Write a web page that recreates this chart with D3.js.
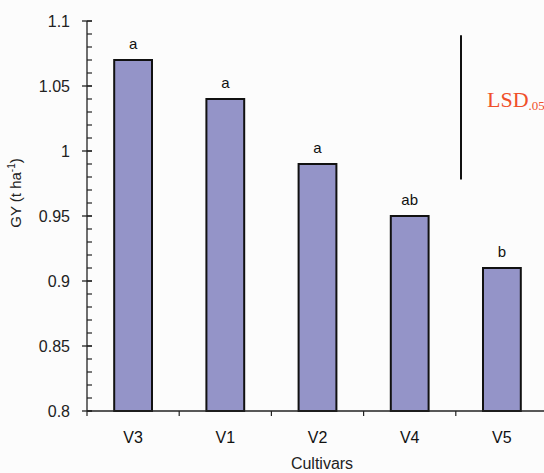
<!DOCTYPE html>
<html><head><meta charset="utf-8">
<script src="https://cdn.jsdelivr.net/npm/d3@7"></script>
<style>
html,body{margin:0;padding:0;background:#fcfcfc;}
svg{display:block;font-family:Arial,"Liberation Sans",sans-serif;}
</style></head>
<body><svg id="c" width="544" height="473"></svg>
<script>
const categories = ["V3","V1","V2","V4","V5"];
const values = [1.07, 1.04, 0.99, 0.95, 0.91];
const letters = ["a","a","a","ab","b"];
const yTicks = [0.8, 0.85, 0.9, 0.95, 1, 1.05, 1.1];
const lsdRange = [0.978, 1.089];

const svg = d3.select("#c");
const mLeft = 87, mRight = 548, mTop = 21, mBottom = 411;
const x = d3.scaleBand().domain(categories).range([mLeft, mRight]).paddingInner(0.59).paddingOuter(0.295);
const y = d3.scaleLinear().domain([0.8, 1.1]).range([mBottom, mTop]);

// bars
svg.append("g").selectAll("rect").data(values).join("rect")
  .attr("x", (d,i) => x(categories[i]))
  .attr("y", d => y(d))
  .attr("width", x.bandwidth())
  .attr("height", d => y(0.8) - y(d))
  .attr("fill", "#9494c8")
  .attr("stroke", "#111").attr("stroke-width", 2);

// letters
svg.append("g").selectAll("text").data(values).join("text")
  .attr("x", (d,i) => x(categories[i]) + x.bandwidth()/2)
  .attr("y", d => y(d) - 11)
  .attr("text-anchor", "middle").attr("font-size", 15).attr("fill", "#111")
  .text((d,i) => letters[i]);

// y axis
const minor = d3.range(0.8, 1.1001, 0.01);
const ya = svg.append("g").attr("transform", `translate(${mLeft},0)`);
ya.append("line").attr("y1", y(0.8)).attr("y2", y(1.1)).attr("stroke", "#222").attr("stroke-width", 1.3);
ya.selectAll("line.mn").data(minor).join("line").attr("class","mn")
  .attr("x1", 0).attr("x2", 5).attr("y1", d => y(d)).attr("y2", d => y(d))
  .attr("stroke", "#222").attr("stroke-width", 1.2);
ya.selectAll("line.mj").data(yTicks).join("line").attr("class","mj")
  .attr("x1", -5).attr("x2", 5).attr("y1", d => y(d)).attr("y2", d => y(d))
  .attr("stroke", "#222").attr("stroke-width", 1.3);
ya.selectAll("text").data(yTicks).join("text")
  .attr("x", -17).attr("y", d => y(d)).attr("dy", "0.35em")
  .attr("text-anchor", "end").attr("font-size", 16).attr("fill", "#222")
  .text(d => String(+d.toFixed(2)));

// x axis
const xa = svg.append("g").attr("transform", `translate(0,${mBottom})`);
xa.append("line").attr("x1", mLeft).attr("x2", mRight).attr("stroke", "#222").attr("stroke-width", 1.3);
const gap = (x.step() - x.bandwidth())/2;
xa.selectAll("line.t").data(categories).join("line").attr("class","t")
  .attr("x1", d => x(d) - gap).attr("x2", d => x(d) - gap)
  .attr("y1", 0).attr("y2", 5).attr("stroke", "#222").attr("stroke-width", 1.2);
xa.selectAll("text").data(categories).join("text")
  .attr("x", d => x(d) + x.bandwidth()/2).attr("y", 32)
  .attr("text-anchor", "middle").attr("font-size", 16).attr("fill", "#111")
  .text(d => d);

// axis titles
svg.append("text").attr("x", 322).attr("y", 469)
  .attr("text-anchor", "middle").attr("font-size", 16).attr("fill", "#222").text("Cultivars");
const yl = svg.append("text").attr("transform", "translate(21,193) rotate(-90)")
  .attr("text-anchor", "middle").attr("font-size", 15).attr("fill", "#222");
yl.append("tspan").text("GY (t ha");
yl.append("tspan").attr("dy", -6).attr("font-size", 10).text("-1");
yl.append("tspan").attr("dy", 6).text(")");

// LSD bar
svg.append("line").attr("x1", 461).attr("x2", 461)
  .attr("y1", y(lsdRange[1])).attr("y2", y(lsdRange[0]))
  .attr("stroke", "#111").attr("stroke-width", 2);
const lt = svg.append("text").attr("x", 487).attr("y", 107)
  .attr("font-family", "'Liberation Serif','Times New Roman',serif")
  .attr("font-size", 22).attr("fill", "#f0502a");
lt.append("tspan").text("LSD");
lt.append("tspan").attr("dy", 3).attr("font-size", 13).text(".05");
</script></body></html>
